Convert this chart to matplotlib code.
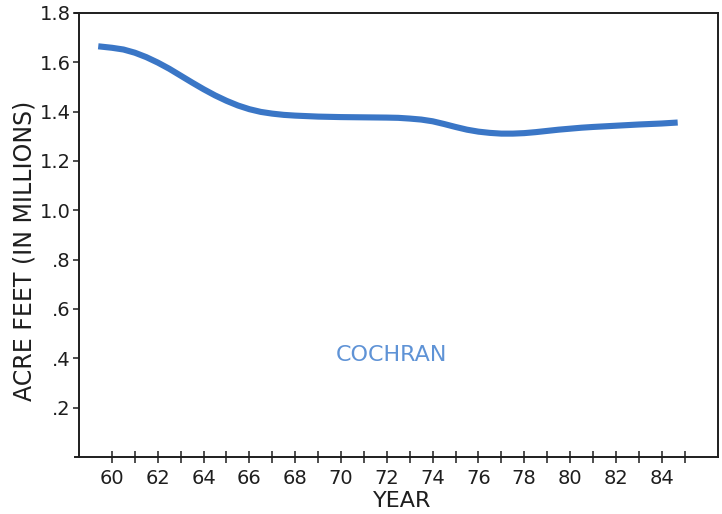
import matplotlib
matplotlib.use("Agg")
import matplotlib.pyplot as plt
from matplotlib.lines import Line2D

# Annual water use, Cochran (acre feet, millions)
years = [59.4, 60.0, 60.5, 61.0, 61.5, 62.0, 62.5, 63.0, 63.5, 64.0, 64.5,
         65.0, 65.5, 66.0, 66.5, 67.0, 67.5, 68.0, 69.0, 70.0, 71.0, 72.0,
         72.5, 73.0, 73.5, 74.0, 74.5, 75.0, 75.5, 76.0, 76.5, 77.0, 77.5,
         78.0, 78.5, 79.0, 79.5, 80.0, 80.5, 81.0, 82.0, 83.0, 84.0, 84.7]
acre_feet = [1.665, 1.659, 1.652, 1.639, 1.621, 1.599, 1.574, 1.546, 1.518,
             1.491, 1.466, 1.444, 1.425, 1.410, 1.399, 1.392, 1.387, 1.384,
             1.380, 1.378, 1.377, 1.376, 1.375, 1.372, 1.368, 1.361, 1.350,
             1.338, 1.327, 1.319, 1.314, 1.311, 1.311, 1.313, 1.317, 1.322,
             1.327, 1.331, 1.335, 1.338, 1.343, 1.348, 1.352, 1.356]

year_major = list(range(60, 85, 2))
year_minor = list(range(61, 86, 2))
y_ticks = [0.2, 0.4, 0.6, 0.8, 1.0, 1.2, 1.4, 1.6, 1.8]
y_labels = [".2", ".4", ".6", ".8", "1.0", "1.2", "1.4", "1.6", "1.8"]
series_label = "COCHRAN"

plt.rcParams["font.family"] = ["DejaVu Sans"]
ink = "#1e1e1e"

fig = plt.figure(figsize=(7.22, 5.14), dpi=100, facecolor="white")
ax = fig.add_axes([79 / 722, 1 - 457 / 514, (718 - 79) / 722, (457 - 13) / 514])

ax.plot(years, acre_feet, color="#3a76c6", lw=4.4, solid_capstyle="butt",
        solid_joinstyle="round")

ax.set_xlim(58.56, 86.46)
ax.set_ylim(0, 1.8)

ax.set_xticks(year_major)
ax.set_xticklabels([str(y) for y in year_major])
ax.set_xticks(year_minor, minor=True)
ax.set_yticks(y_ticks)
ax.set_yticklabels(y_labels)

ax.tick_params(axis="x", which="both", direction="inout", length=8, width=1.1,
               color=ink, pad=5, labelsize=14, labelcolor=ink)
ax.tick_params(axis="y", direction="out", length=4, width=1.1, color=ink,
               pad=2, labelsize=14, labelcolor=ink)

for side in ("left", "right", "top", "bottom"):
    ax.spines[side].set_color(ink)
    ax.spines[side].set_linewidth(1.4)

# short overhang of the frame to the left of the vertical axis
for yy in (0.0, 1.0):
    ax.add_line(Line2D([-0.007, 0], [yy, yy], transform=ax.transAxes,
                       color=ink, lw=1.4, clip_on=False))

ax.set_xlabel("YEAR", fontsize=16, color=ink, va="top")
ax.xaxis.set_label_coords(0.5055, -0.076)
ax.set_ylabel("ACRE FEET (IN MILLIONS)", fontsize=17, color=ink)
ax.yaxis.set_label_coords(-0.066, 0.464)

ax.text(72.2, 0.415, series_label, color="#5f93d6", fontsize=16,
        ha="center", va="center")

fig.savefig("out.png", dpi=100, facecolor="white")
